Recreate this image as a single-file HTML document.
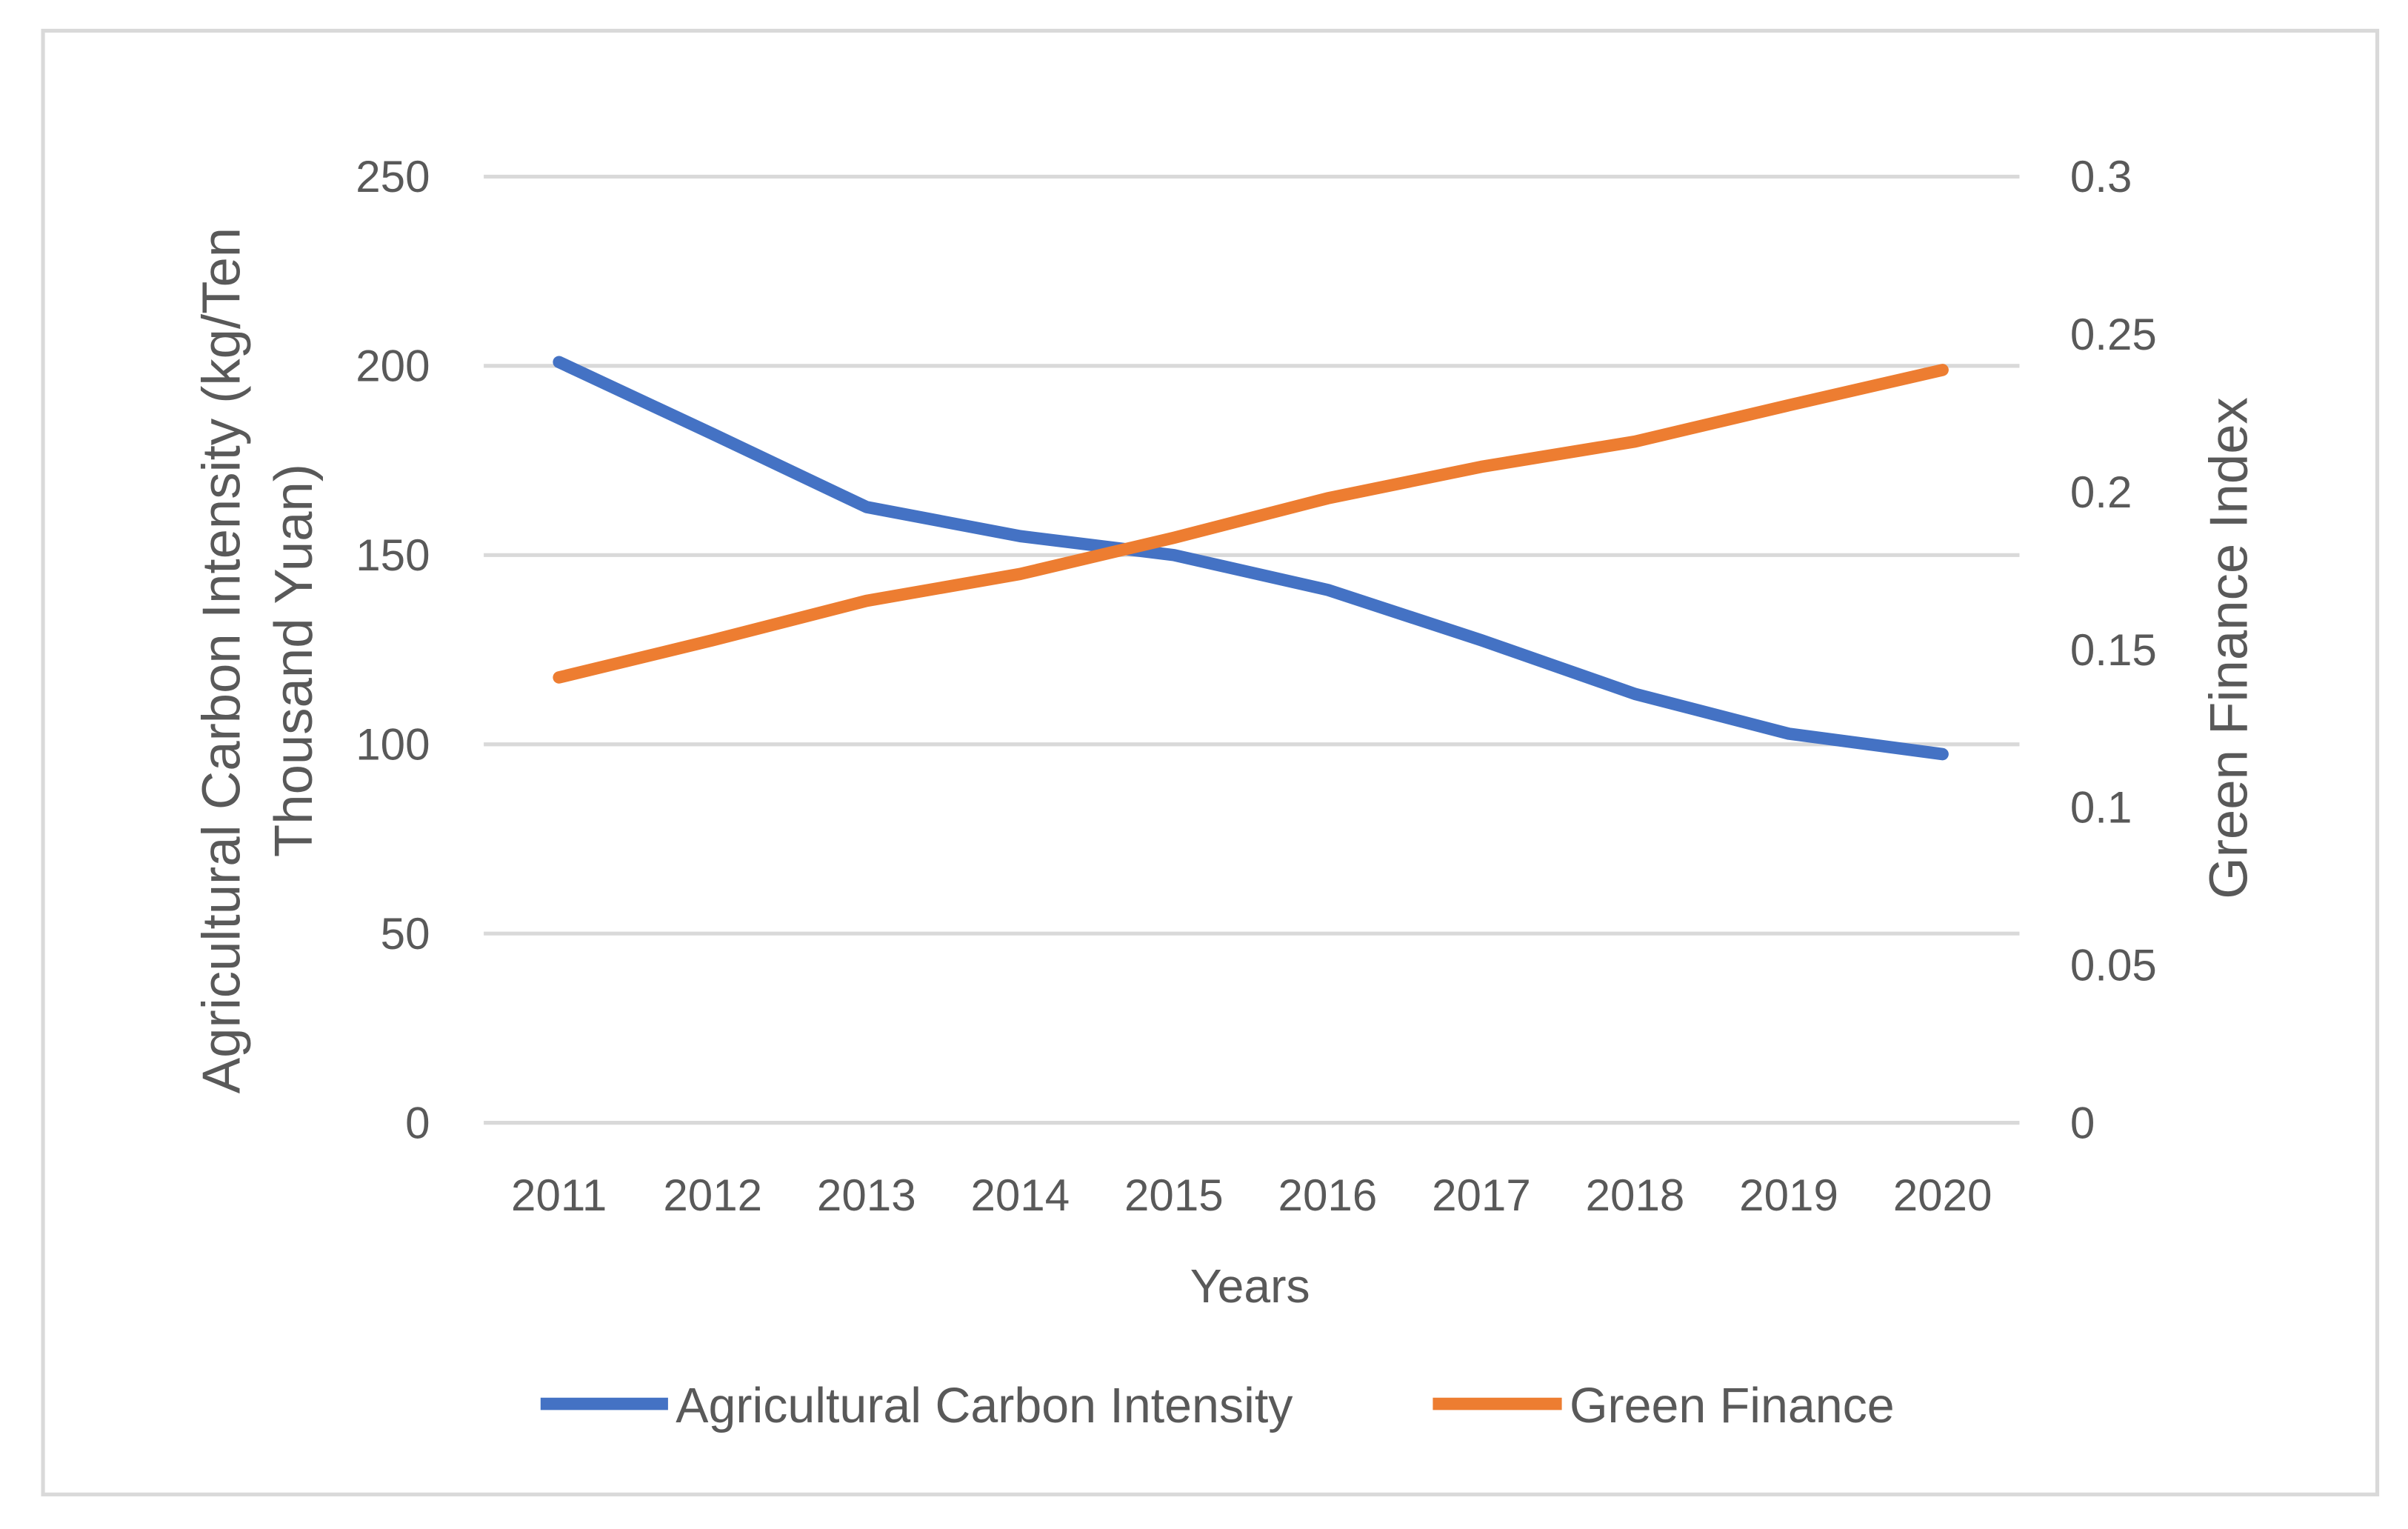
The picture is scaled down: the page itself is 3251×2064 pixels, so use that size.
<!DOCTYPE html>
<html><head><meta charset="utf-8"><style>
html,body{margin:0;padding:0;background:#fff;}
svg{display:block;font-family:"Liberation Sans",sans-serif;}
</style></head><body>
<svg id="chart" width="3251" height="2064" viewBox="0 0 1568 995.5" xmlns="http://www.w3.org/2000/svg">
<rect x="28" y="20" width="1520" height="953" fill="#fff" stroke="#d9d9d9" stroke-width="2.5"/>
<g id="grid"></g><g id="series"></g><g id="labels" fill="#595959" font-size="29"></g>
<text x="814" y="848" font-size="31" fill="#595959" text-anchor="middle">Years</text>
<text transform="translate(156,430) rotate(-90)" font-size="35" fill="#595959" text-anchor="middle">Agricultural Carbon Intensity (kg/Ten</text>
<text transform="translate(203,430) rotate(-90)" font-size="35" fill="#595959" text-anchor="middle">Thousand Yuan)</text>
<text transform="translate(1463,422) rotate(-90)" font-size="35" fill="#595959" text-anchor="middle">Green Finance Index</text>
<g>
<line x1="352" y1="914" x2="435" y2="914" stroke="#4472c4" stroke-width="8"/>
<text x="440" y="926" font-size="32" fill="#595959">Agricultural Carbon Intensity</text>
<line x1="933" y1="914" x2="1017" y2="914" stroke="#ed7d31" stroke-width="8"/>
<text x="1022" y="926" font-size="32" fill="#595959">Green Finance</text>
</g>
</svg>
<script>
const years = ["2011","2012","2013","2014","2015","2016","2017","2018","2019","2020"];
const carbonIntensity = [201, 182, 162.7, 155, 150, 140.8, 127.5, 113.3, 102.8, 97.4];
const greenFinance = [0.1412, 0.153, 0.1655, 0.174, 0.1855, 0.198, 0.208, 0.216, 0.2275, 0.2387];
const leftTicks = [0, 50, 100, 150, 200, 250];
const rightTicks = ["0","0.05","0.1","0.15","0.2","0.25","0.3"];

const NS = "http://www.w3.org/2000/svg";
const x = i => 364 + i * 100.1;
const yL = v => 731 - v * (616 / 250);
const yR = v => 731 - v * (616 / 0.3);
function mk(tag, attrs, parent){const e=document.createElementNS(NS,tag);for(const k in attrs)e.setAttribute(k,attrs[k]);parent.appendChild(e);return e;}
const grid=document.getElementById('grid'), labels=document.getElementById('labels'), series=document.getElementById('series');
leftTicks.forEach(v=>{
  const l=mk('line',{x1:315,x2:1315,y1:yL(v),y2:yL(v),stroke:'#d9d9d9','stroke-width':2.5},grid);
  
  
  const t=mk('text',{x:280,y:yL(v)+10,'text-anchor':'end'},labels);t.textContent=v;
  
  
});
rightTicks.forEach(v=>{
  const t=mk('text',{x:1348,y:yR(parseFloat(v))+10},labels);t.textContent=v;
  
  
});
years.forEach((yr,i)=>{
  const t=mk('text',{x:x(i),y:788,'text-anchor':'middle'},labels);t.textContent=yr;
  
  
});
const p1=mk('polyline',{points:carbonIntensity.map((v,i)=>x(i)+','+yL(v)).join(' '),fill:'none',stroke:'#4472c4','stroke-width':8,'stroke-linejoin':'round','stroke-linecap':'round'},series);


const p2=mk('polyline',{points:greenFinance.map((v,i)=>x(i)+','+yR(v)).join(' '),fill:'none',stroke:'#ed7d31','stroke-width':8,'stroke-linejoin':'round','stroke-linecap':'round'},series);


</script>
</body></html>
